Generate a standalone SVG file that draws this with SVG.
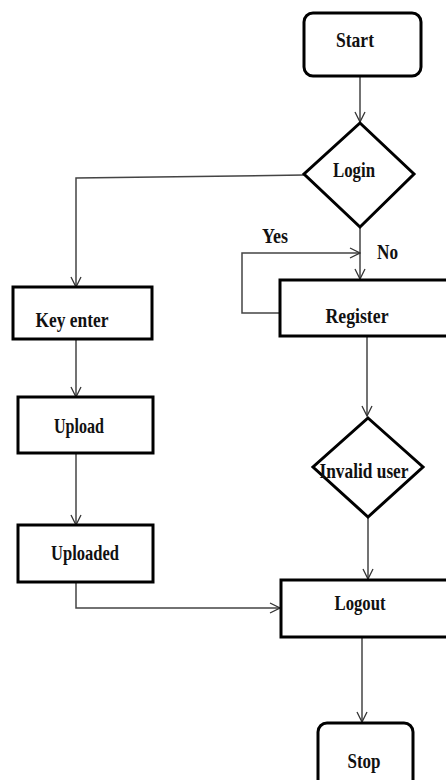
<svg xmlns="http://www.w3.org/2000/svg" width="446" height="780" viewBox="0 0 446 780">
<defs>
<marker id="arr" viewBox="0 0 12 12" refX="11" refY="6" markerWidth="12" markerHeight="12" markerUnits="userSpaceOnUse" orient="auto">
<path d="M1,1 L11,6 L1,11" fill="none" stroke="#333" stroke-width="1.3"/>
</marker>
<style>
.box{fill:#fff;stroke:#000;stroke-width:3}
.t{font-family:"Liberation Serif","Times New Roman",serif;font-weight:bold;font-size:22px;fill:#111;text-anchor:middle}
.l{font-family:"Liberation Serif","Times New Roman",serif;font-weight:bold;font-size:21px;fill:#111}
.c{fill:none;stroke:#444;stroke-width:1.5}
</style>
</defs>
<rect width="446" height="780" fill="#fff"/>
<g id="connectors">
<path class="c" d="M360,76 L360,122" marker-end="url(#arr)"/>
<path class="c" d="M304,175 L76,178 L76,287" marker-end="url(#arr)"/>
<path class="c" d="M360,227 L360,279" marker-end="url(#arr)"/>
<path class="c" d="M280,313 L242,313 L242,253 L360,253" marker-end="url(#arr)"/>
<path class="c" d="M367,337 L367,416" marker-end="url(#arr)"/>
<path class="c" d="M368,517 L368,579" marker-end="url(#arr)"/>
<path class="c" d="M76,339 L76,397" marker-end="url(#arr)"/>
<path class="c" d="M76,453 L76,525" marker-end="url(#arr)"/>
<path class="c" d="M76,582 L76,608 L280,608" marker-end="url(#arr)"/>
<path class="c" d="M362,637 L362,722" marker-end="url(#arr)"/>
<text class="l" x="262" y="243" textLength="26" lengthAdjust="spacingAndGlyphs">Yes</text>
<text class="l" x="377" y="259" textLength="21" lengthAdjust="spacingAndGlyphs">No</text>
</g>
<g id="start">
<rect class="box" x="304" y="13" width="117" height="63" rx="9"/>
<text class="t" x="355" y="47" textLength="38" lengthAdjust="spacingAndGlyphs">Start</text>
</g>
<g id="login">
<polygon class="box" points="360,123 414,174 360,227 304,174"/>
<text class="t" x="354" y="177" textLength="42" lengthAdjust="spacingAndGlyphs">Login</text>
</g>
<g id="key-enter">
<rect class="box" x="13" y="287" width="139" height="52"/>
<text class="t" x="72" y="327" textLength="73" lengthAdjust="spacingAndGlyphs">Key enter</text>
</g>
<g id="register">
<rect class="box" x="280" y="280" width="170" height="56"/>
<text class="t" x="357" y="323" textLength="63" lengthAdjust="spacingAndGlyphs">Register</text>
</g>
<g id="upload">
<rect class="box" x="18" y="397" width="135" height="56"/>
<text class="t" x="79" y="433" textLength="50" lengthAdjust="spacingAndGlyphs">Upload</text>
</g>
<g id="uploaded">
<rect class="box" x="18" y="525" width="135" height="57"/>
<text class="t" x="85" y="560" textLength="68" lengthAdjust="spacingAndGlyphs">Uploaded</text>
</g>
<g id="invalid-user">
<polygon class="box" points="368,418 423,467 368,517 313,467"/>
<text class="t" x="364" y="478" textLength="89" lengthAdjust="spacingAndGlyphs">Invalid user</text>
</g>
<g id="logout">
<rect class="box" x="281" y="580" width="170" height="57"/>
<text class="t" x="360" y="610" textLength="51" lengthAdjust="spacingAndGlyphs">Logout</text>
</g>
<g id="stop">
<rect class="box" x="318" y="723" width="95" height="70" rx="9"/>
<text class="t" x="364" y="768" textLength="33" lengthAdjust="spacingAndGlyphs">Stop</text>
</g>
</svg>
